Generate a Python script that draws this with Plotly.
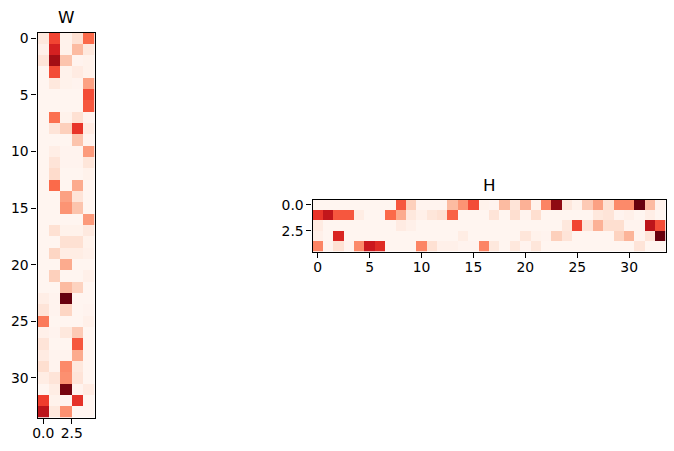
import plotly.graph_objects as go

W_VALUES = [
    [.08, .60, .02, .12, .50],
    [.03, .72, .02, .25, .08],
    [.10, .88, .22, .01, .02],
    [.00, .58, .02, .06, .02],
    [.00, .08, .02, .01, .33],
    [.00, .00, .00, .00, .58],
    [.00, .00, .00, .00, .55],
    [.00, .48, .02, .12, .01],
    [.00, .10, .18, .65, .06],
    [.00, .00, .00, .22, .01],
    [.00, .04, .01, .01, .35],
    [.00, .10, .01, .01, .09],
    [.00, .14, .00, .00, .02],
    [.00, .50, .00, .30, .00],
    [.00, .00, .33, .10, .00],
    [.00, .00, .37, .22, .00],
    [.00, .00, .00, .00, .35],
    [.00, .12, .02, .02, .07],
    [.00, .00, .12, .12, .02],
    [.00, .16, .05, .05, .03],
    [.00, .00, .30, .00, .00],
    [.00, .18, .00, .00, .03],
    [.00, .00, .25, .17, .00],
    [.04, .01, 1.0, .00, .00],
    [.10, .01, .16, .00, .01],
    [.45, .00, .00, .00, .03],
    [.03, .01, .08, .20, .00],
    [.10, .00, .00, .55, .00],
    [.06, .01, .01, .30, .00],
    [.13, .01, .40, .08, .00],
    [.05, .10, .38, .10, .00],
    [.00, .05, .97, .01, .06],
    [.62, .02, .01, .66, .00],
    [.80, .08, .38, .00, .00],
]

H_ROW_0 = [0, 0, 0, 0, 0, 0, 0, 0, .55, .18, .01, .01, .01, .25, .37, .58, .02,
           .01, .25, .10, .28, .02, .42, .92, .08, .02, .20, .33, .12, .40, .40, 1.0, .25, .02]
H_ROW_1 = [.65, .78, .55, .55, .05, 0, 0, .50, .30, .08, .03, .09, .12, .52, 0, 0, 0,
           .10, 0, .13, .01, .13, 0, 0, 0, 0, 0, .08, .10, .01, .03, 0, .04, 0]
H_ROW_2 = [.06, 0, 0, 0, 0, 0, 0, 0, .06, .03, 0, 0, 0, 0, 0, 0, 0,
           0, 0, 0, 0, 0, 0, 0, .08, .60, .10, .28, .13, .13, .01, .01, .80, .58]
H_ROW_3 = [.03, 0, .70, 0, 0, 0, 0, 0, 0, 0, 0, 0, 0, 0, .05, 0, 0,
           0, 0, 0, .09, .02, .01, .18, .10, 0, 0, 0, 0, .17, .27, .01, .10, 1.0]
H_ROW_4 = [.42, .01, .12, .01, .40, .75, .68, 0, 0, 0, .42, .12, .03, .03, .01, .01, .42,
           .08, 0, .08, .01, .09, 0, 0, 0, 0, 0, 0, 0, 0, 0, .10, 0, 0]
H_VALUES = [H_ROW_0, H_ROW_1, H_ROW_2, H_ROW_3, H_ROW_4]

W_X_TICKS = [0, 2.5]
W_X_LABELS = ["0.0", "2.5"]
W_Y_TICKS = [0, 5, 10, 15, 20, 25, 30]
H_X_TICKS = [0, 5, 10, 15, 20, 25, 30]
H_Y_TICKS = [0, 2.5]
H_Y_LABELS = ["0.0", "2.5"]

REDS = ["#fff5f0", "#fee0d2", "#fcbba1", "#fc9272", "#fb6a4a", "#ef3b2c", "#cb181d", "#a50f15", "#67000d"]
COLORSCALE = [[i / 8, c] for i, c in enumerate(REDS)]

PW, PH = 674, 451
FONT = "DejaVu Sans"
TICK = dict(family=FONT, size=13.9, color="black")

axis = dict(showgrid=False, zeroline=False, showline=True, mirror=True, linecolor="black",
            linewidth=1.1, ticks="outside", ticklen=5, tickwidth=1.1, tickcolor="black",
            tickfont=TICK, tickmode="array", automargin=False)

fig = go.Figure()
fig.add_trace(go.Heatmap(z=W_VALUES, x=list(range(5)), y=list(range(34)), colorscale=COLORSCALE,
                         zmin=0, zmax=1, showscale=False, xaxis="x", yaxis="y"))
fig.add_trace(go.Heatmap(z=H_VALUES, x=list(range(34)), y=list(range(5)), colorscale=COLORSCALE,
                         zmin=0, zmax=1, showscale=False, xaxis="x2", yaxis="y2"))

fig.update_layout(
    template="none",
    width=PW, height=PH, margin=dict(l=0, r=0, t=0, b=0, pad=0, autoexpand=False),
    paper_bgcolor="white", plot_bgcolor="white",
    showlegend=False,
    xaxis=dict(axis, domain=[37.5 / PW, 94.5 / PW], range=[-0.5, 4.5], anchor="y",
               tickvals=W_X_TICKS, ticktext=W_X_LABELS, ticklabelstandoff=-2),
    yaxis=dict(axis, domain=[1 - 417.5 / PH, 1 - 32.5 / PH], range=[33.5, -0.5], anchor="x",
               tickvals=W_Y_TICKS, ticktext=[str(v) for v in W_Y_TICKS]),
    xaxis2=dict(axis, domain=[312.5 / PW, 665.5 / PW], range=[-0.5, 33.5], anchor="y2",
                tickvals=H_X_TICKS, ticktext=[str(v) for v in H_X_TICKS], ticklabelstandoff=-2),
    yaxis2=dict(axis, domain=[1 - 251.5 / PH, 1 - 199.5 / PH], range=[4.5, -0.5], anchor="x2",
                tickvals=H_Y_TICKS, ticktext=H_Y_LABELS),
    annotations=[
        dict(text="W", xref="x domain", yref="y domain", x=0.5, y=1, yanchor="bottom", yshift=3,
             showarrow=False, font=dict(family=FONT, size=16.7, color="black")),
        dict(text="H", xref="x2 domain", yref="y2 domain", x=0.5, y=1, yanchor="bottom", yshift=3,
             showarrow=False, font=dict(family=FONT, size=16.7, color="black")),
    ],
)

fig.write_html("out.html", config={"displayModeBar": False},
               post_script="document.body.style.margin='0';document.body.style.overflow='hidden';")
